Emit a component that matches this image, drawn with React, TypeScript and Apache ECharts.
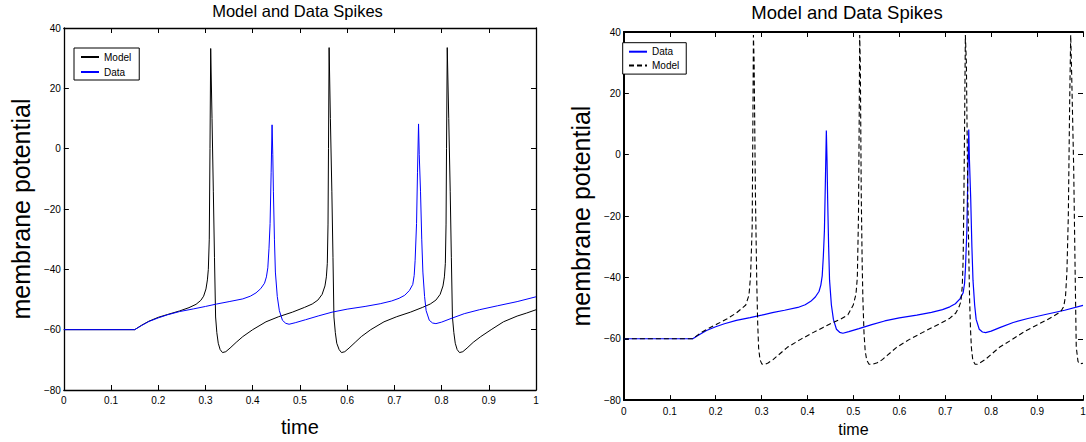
import React, { useEffect, useRef } from "react";
import * as echarts from "echarts";

const FONT = "'Liberation Sans', Arial, Helvetica, sans-serif";

const chartTitle = "Model and Data Spikes";
const xName = "time";
const yName = "membrane potential";
const xMin = 0;
const xMax = 1;
const xStep = 0.1;
const yMin = -80;
const yMax = 40;
const yStep = 20;

// Recorded membrane potential (same trace in both panels)
const dataTrace: number[][] = [
  [0, -60], [0.15, -60], [0.165, -58.6], [0.18, -57.3], [0.2, -56.1], [0.219, -55.1],
  [0.245, -54], [0.275, -53.1], [0.3, -52.3], [0.3235, -51.5], [0.35, -50.7], [0.379, -49.8],
  [0.395, -48.9], [0.407, -47.8], [0.417, -46.4], [0.425, -44.6], [0.429, -42.5], [0.432, -39.5],
  [0.4345, -33], [0.4368, -24.8], [0.439, -8], [0.441, 7.9], [0.4425, -2], [0.4438, -14.1],
  [0.446, -30], [0.448, -40.9], [0.452, -49], [0.4564, -53.7], [0.463, -56.9], [0.47, -57.9],
  [0.477, -58.2], [0.49, -57.7], [0.512, -56.7], [0.54, -55.4], [0.568, -54.2], [0.6, -53.2],
  [0.638, -52.3], [0.67, -51.4], [0.694, -50.5], [0.71, -49.6], [0.722, -48.6], [0.732, -47],
  [0.739, -45], [0.742, -42], [0.744, -37], [0.747, -24.8], [0.749, -8], [0.7512, 8.2],
  [0.7527, -2], [0.7554, -14.1], [0.758, -30], [0.7604, -40.9], [0.764, -49], [0.7673, -53.7],
  [0.774, -56.9], [0.781, -57.8], [0.788, -58], [0.8, -57.5], [0.82, -56.3], [0.848, -54.7],
  [0.88, -53.4], [0.918, -52.1], [0.96, -50.7], [1, -49.1],
];

// Left panel model
const modelLeft: number[][] = [
  [0, -60], [0.15, -60], [0.165, -58.5], [0.18, -57.2], [0.2, -55.9], [0.219, -55],
  [0.245, -53.8], [0.265, -52.7], [0.28, -51.6], [0.29, -50.3], [0.296, -48.9], [0.301, -46.5],
  [0.304, -43.5], [0.306, -40], [0.308, -30], [0.3095, 0], [0.311, 33.2], [0.3138, 10],
  [0.3166, -14.1], [0.319, -36], [0.3214, -55.8], [0.324, -61], [0.327, -64.5], [0.331, -66.6],
  [0.336, -67.6], [0.343, -67.3], [0.352, -66.1], [0.365, -64.2], [0.379, -62.3], [0.4, -60],
  [0.428, -57.4], [0.455, -55.7], [0.484, -54.2], [0.51, -52.6], [0.526, -51.5], [0.538, -50.2],
  [0.547, -48.3], [0.553, -45.5], [0.556, -42.5], [0.558, -38], [0.5595, -25], [0.5605, 0],
  [0.5618, 33.5], [0.5645, 10], [0.5676, -14.1], [0.57, -36], [0.572, -55.8], [0.575, -61],
  [0.578, -64.5], [0.583, -66.6], [0.588, -67.6], [0.595, -67.3], [0.604, -66.1], [0.617, -64.2],
  [0.63, -62.3], [0.65, -60], [0.678, -57.4], [0.705, -55.7], [0.734, -54.2], [0.76, -52.6],
  [0.776, -51.5], [0.788, -50.2], [0.797, -48.3], [0.803, -45.5], [0.806, -42.5], [0.808, -38],
  [0.8095, -25], [0.8105, 0], [0.812, 33.5], [0.8152, 10], [0.8183, -14.1], [0.8207, -36],
  [0.823, -55.8], [0.826, -61], [0.829, -64.5], [0.833, -66.6], [0.838, -67.6], [0.845, -67.3],
  [0.854, -66.1], [0.867, -64.2], [0.883, -62.3], [0.905, -60], [0.931, -57.4], [0.96, -55.5],
  [0.98, -54.5], [1, -53.4],
];

// Right panel model (dashed)
const modelRight: number[][] = [
  [0, -60], [0.15, -60], [0.168, -58], [0.185, -56.6], [0.203, -55.2], [0.225, -53.5],
  [0.245, -51.6], [0.2655, -49], [0.2725, -45.8], [0.276, -39.4], [0.2795, -23.4], [0.2812, 15],
  [0.2822, 39], [0.2837, 30], [0.2865, -12.6], [0.2895, -42], [0.2915, -55], [0.2935, -63],
  [0.2965, -66.8], [0.3004, -68.2], [0.306, -68.4], [0.314, -67.9], [0.325, -66.8], [0.335, -65.5],
  [0.356, -62.8], [0.385, -60.2], [0.412, -58], [0.434, -56.3], [0.454, -54.8], [0.472, -53.6],
  [0.488, -52.2], [0.4996, -49], [0.5055, -45.5], [0.5085, -40], [0.511, -20], [0.5125, 10],
  [0.5136, 39], [0.515, 30], [0.517, -12.6], [0.519, -35], [0.5206, -47], [0.523, -58],
  [0.5256, -64], [0.529, -67], [0.534, -68.3], [0.542, -68.3], [0.552, -67.8], [0.563, -66.8],
  [0.573, -65.5], [0.594, -62.8], [0.622, -60.2], [0.65, -58], [0.672, -56.3], [0.692, -54.8],
  [0.71, -53.3], [0.723, -51.6], [0.73, -49.6], [0.734, -47.9], [0.737, -43], [0.739, -34],
  [0.7405, -15], [0.742, 8], [0.7438, 39], [0.746, 30], [0.749, -12.6], [0.7512, -32],
  [0.753, -47], [0.755, -57], [0.757, -63], [0.76, -67], [0.765, -68.3], [0.77, -68.3],
  [0.776, -67.8], [0.787, -66.8], [0.797, -65.5], [0.818, -62.8], [0.846, -60.2], [0.874, -57.5],
  [0.9, -55.5], [0.922, -53.8], [0.945, -51.8], [0.953, -50.8], [0.958, -49.5], [0.962, -46],
  [0.965, -38], [0.968, -20.2], [0.971, 17.3], [0.9732, 39], [0.9755, 25], [0.9797, -4.2],
  [0.9832, -41.6], [0.9853, -62.7], [0.989, -67.3], [0.9923, -68.2], [1, -68],
];

type PanelCfg = {
  grid: { left: number; right: number; top: number; bottom: number };
  titleX: number;
  titleTop: number;
  titleSize: number;
  axisWidth: number;
  showRightLine: boolean;
  xNameSize: number;
  xNameGap: number;
  yNameSize: number;
  yNameGap: number;
  labelMarginX: number;
  legend: { left: number; top: number; padding: number[]; itemGap: number };
  series: { name: string; data: number[][]; color: string; width: number; dash?: number[] }[];
};

function makeOption(c: PanelCfg) {
  const axisLine = { show: true, onZero: false, lineStyle: { color: "#000", width: c.axisWidth } };
  const axisTick = { show: true, inside: true, length: 5, lineStyle: { color: "#000", width: 1 } };
  const labelStyle = { color: "#000", fontSize: 10, fontFamily: FONT };
  const minus = (v: number) => String(v).replace("-", "\u2212");
  const xBase = { type: "value", min: xMin, max: xMax, interval: xStep, splitLine: { show: false }, axisLine, axisTick };
  const yBase = { type: "value", min: yMin, max: yMax, interval: yStep, splitLine: { show: false }, axisLine, axisTick };
  return {
    animation: false,
    title: {
      text: chartTitle,
      left: c.titleX,
      top: c.titleTop,
      textAlign: "center",
      padding: 0,
      textStyle: { fontSize: c.titleSize, fontWeight: "normal", color: "#000", fontFamily: FONT },
    },
    legend: {
      orient: "vertical",
      left: c.legend.left,
      top: c.legend.top,
      padding: c.legend.padding,
      itemGap: c.legend.itemGap,
      itemWidth: 18,
      itemHeight: 8,
      borderColor: "#000",
      borderWidth: 1,
      backgroundColor: "#fff",
      selectedMode: false,
      itemStyle: { color: "rgba(0,0,0,0)", borderWidth: 0, opacity: 0 },
      textStyle: { fontSize: 10, color: "#000", fontFamily: FONT },
      data: c.series.map((s) => s.name),
    },
    grid: { ...c.grid, containLabel: false },
    xAxis: [
      {
        ...xBase,
        position: "bottom",
        axisLabel: { ...labelStyle, margin: c.labelMarginX },
        name: xName,
        nameLocation: "middle",
        nameGap: c.xNameGap,
        nameTextStyle: { fontSize: c.xNameSize, color: "#000", fontFamily: FONT },
      },
      { ...xBase, position: "top", axisLabel: { show: false } },
    ],
    yAxis: [
      {
        ...yBase,
        position: "left",
        axisLabel: { ...labelStyle, margin: 3, formatter: minus },
        name: yName,
        nameLocation: "middle",
        nameGap: c.yNameGap,
        nameTextStyle: { fontSize: c.yNameSize, color: "#000", fontFamily: FONT },
      },
      {
        ...yBase,
        position: "right",
        axisLine: { ...axisLine, show: c.showRightLine },
        axisLabel: { show: false },
      },
    ],
    series: c.series.map((s) => ({
      name: s.name,
      type: "line",
      xAxisIndex: 0,
      yAxisIndex: 0,
      data: s.data,
      symbol: "none",
      showSymbol: false,
      clip: true,
      color: s.color,
      lineStyle: { color: s.color, width: s.width, type: s.dash ? s.dash : "solid" },
      emphasis: { disabled: true },
    })),
  };
}

const leftCfg: PanelCfg = {
  grid: { left: 59, right: 24, top: 28, bottom: 40 },
  titleX: 297.5,
  titleTop: 2,
  titleSize: 16.5,
  axisWidth: 1.3,
  showRightLine: true,
  xNameSize: 20,
  xNameGap: 27,
  yNameSize: 25,
  yNameGap: 28,
  labelMarginX: 5,
  legend: { left: 74, top: 48, padding: [4, 8, 3, 6], itemGap: 5 },
  series: [
    { name: "Model", data: modelLeft, color: "#000000", width: 1 },
    { name: "Data", data: dataTrace, color: "#0000ff", width: 1 },
  ],
};

const rightCfg: PanelCfg = {
  grid: { left: 50, right: 17, top: 32, bottom: 35 },
  titleX: 287,
  titleTop: 3,
  titleSize: 18.5,
  axisWidth: 2,
  showRightLine: false,
  xNameSize: 16,
  xNameGap: 16,
  yNameSize: 25,
  yNameGap: 28,
  labelMarginX: 6,
  legend: { left: 62.7, top: 42.7, padding: [4, 7, 3.7, 5.3], itemGap: 3.7 },
  series: [
    { name: "Data", data: dataTrace, color: "#0000ff", width: 1.2 },
    { name: "Model", data: modelRight, color: "#000000", width: 1.1, dash: [5, 3] },
  ],
};

function Panel({ cfg, left, width }: { cfg: PanelCfg; left: number; width: number }) {
  const ref = useRef<HTMLDivElement>(null);
  useEffect(() => {
    if (!ref.current) return;
    const chart = echarts.init(ref.current, undefined, { renderer: "svg" });
    chart.setOption(makeOption(cfg) as any);
    return () => chart.dispose();
  }, [cfg]);
  return <div ref={ref} style={{ position: "absolute", left, top: 0, width, height: 442 }} />;
}

export default function App() {
  return (
    <div
      style={{
        position: "fixed",
        left: 0,
        top: 0,
        width: 1086,
        height: 442,
        overflow: "hidden",
        background: "#fff",
      }}
    >
      <Panel cfg={leftCfg} left={0} width={560} />
      <Panel cfg={rightCfg} left={560} width={540} />
    </div>
  );
}
